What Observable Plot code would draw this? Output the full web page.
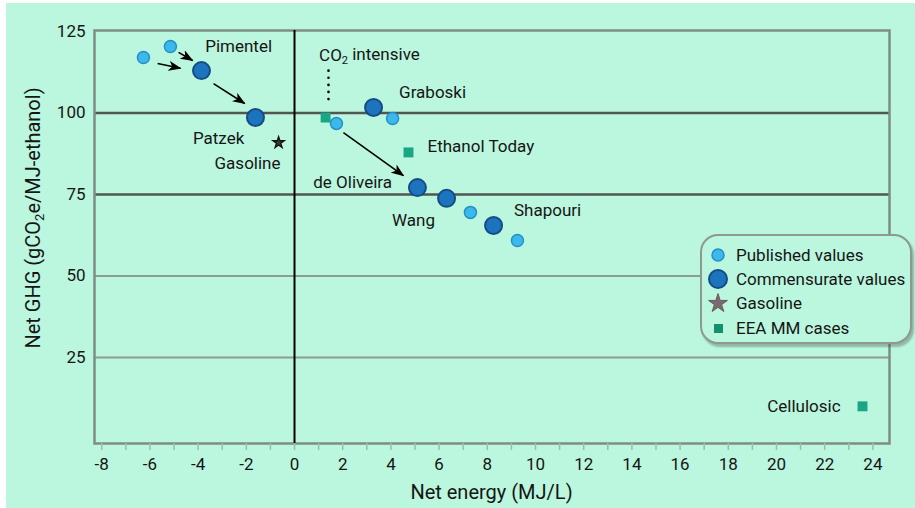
<!DOCTYPE html>
<html><head><meta charset="utf-8">
<script src="https://cdn.jsdelivr.net/npm/d3@7"></script>
<script src="https://cdn.jsdelivr.net/npm/@observablehq/plot@0.6"></script>
<style>
html,body{margin:0;padding:0;background:#fff;}
#wrap{position:absolute;left:6px;top:3px;width:909px;height:505px;background:#bbf6de;font-family:Roboto,"Liberation Sans",sans-serif;color:#151515;overflow:hidden;}
#legend{position:absolute;left:694px;top:231px;width:208px;height:106px;border:2px solid #8e9893;border-radius:18px;background:#bbf6de;box-shadow:2px 3px 2px rgba(60,70,65,0.35);}
.row{position:absolute;left:0;height:24px;width:208px;}
.row svg{position:absolute;left:4px;top:0;}
.row span{position:absolute;left:34px;top:1px;font-size:17px;line-height:22px;white-space:nowrap;}
</style></head>
<body><div id="wrap"></div>
<script>
// ---- data ----
const publishedX = [-6.27, -5.15, 1.74, 4.07, 7.30, 9.25];
const publishedY = [117.0, 120.4, 96.8, 98.3, 69.5, 60.9];
const commensurateX = [-3.86, -1.62, 3.28, 5.10, 6.31, 8.26];
const commensurateY = [113.0, 98.6, 101.7, 77.1, 73.8, 65.5];
const gasolineX = [-0.66];
const gasolineY = [90.9];
const eeaX = [1.29, 4.73, 23.57];
const eeaY = [98.6, 87.9, 10.0];
// arrows (from -> to)
const arrowX1 = [-5.68, -4.81, -3.36, 2.03];
const arrowY1 = [115.2, 118.6, 109.0, 94.0];
const arrowX2 = [-4.73, -4.23, -2.07, 4.52];
const arrowY2 = [113.7, 116.1, 102.9, 80.8];
const dottedX = [1.41];
const dottedY1 = [113.0];
const dottedY2 = [102.3];
// annotation labels
const labelText = ["Pimentel", "Patzek", "Gasoline", "Graboski", "de Oliveira", "Wang", "Shapouri"];
const labelX = [-2.32, -3.15, -1.95, 5.73, 2.41, 4.94, 10.5];
const labelY = [120.4, 92.2, 84.5, 106.3, 78.7, 67.0, 70.1];
const leftLabelText = ["Ethanol Today"];
const leftLabelX = [5.52];
const leftLabelY = [89.7];
const rightLabelText = ["Cellulosic"];
const rightLabelX = [22.66];
const rightLabelY = [10.0];
const co2LabelX = 1.04, co2LabelY = 117.6;
const xTicks = [-8,-6,-4,-2,0,2,4,6,8,10,12,14,16,18,20,22,24];
const xMinorTicks = d3.range(-8, 25, 1);
const yTicks = [25, 50, 75, 100, 125];
const gridDark = [75, 100];
const gridLight = [25, 50];
const legendItems = ["Published values", "Commensurate values", "Gasoline", "EEA MM cases"];

const zip = (xs, ys) => xs.map((x, i) => ({x, y: ys[i]}));
const published = zip(publishedX, publishedY);
const commensurate = zip(commensurateX, commensurateY);
const gasoline = zip(gasolineX, gasolineY);
const eea = zip(eeaX, eeaY);
const arrows = arrowX1.map((x1, i) => ({x1, y1: arrowY1[i], x2: arrowX2[i], y2: arrowY2[i]}));
const dotted = dottedX.map((x, i) => ({x1: x, x2: x, y1: dottedY1[i], y2: dottedY2[i]}));
const labels = labelText.map((t, i) => ({t, x: labelX[i], y: labelY[i]}));
const leftLabels = leftLabelText.map((t, i) => ({t, x: leftLabelX[i], y: leftLabelY[i]}));
const rightLabels = rightLabelText.map((t, i) => ({t, x: rightLabelX[i], y: rightLabelY[i]}));

const C = {pubFill:"#3cb9ea", pubStroke:"#2590c8", comFill:"#1b74bd", comStroke:"#164c84", eea:"#1aa585", frame:"#7f8d87"};

const plot = Plot.plot({
  width: 909, height: 505,
  marginLeft: 88, marginRight: 26, marginTop: 27, marginBottom: 65,
  style: {background: "transparent", fontFamily: "Roboto, 'Liberation Sans', sans-serif", fontSize: "17px", color: "#151515"},
  x: {domain: [-8.3, 24.69]},
  y: {domain: [-1.4, 125.3]},
  marks: [
    Plot.ruleY(gridLight, {stroke: "#8d9c96", strokeWidth: 2}),
    Plot.ruleY(gridDark, {stroke: "#505652", strokeWidth: 2.5}),
    Plot.frame({stroke: C.frame, strokeWidth: 2.5}),
    Plot.ruleX([0], {stroke: "#000", strokeWidth: 2}),
    Plot.axisY({ticks: yTicks, tickSize: 0, tickPadding: 9, label: null, fontSize: 17, tickFormat: d => String(d)}),
    Plot.axisX({ticks: xMinorTicks, tickSize: 7, text: null, label: null, stroke: "#9dbcae", strokeWidth: 1.5}),
    Plot.axisX({ticks: xTicks, tickSize: 0, tickPadding: 14, label: null, fontSize: 17, tickFormat: d => String(d)}),
    Plot.link(dotted, {x1: "x1", y1: "y1", x2: "x2", y2: "y2", stroke: "#000", strokeWidth: 2.6, strokeDasharray: "0.1 7", strokeLinecap: "round"}),
    Plot.link(arrows, {x1: "x1", y1: "y1", x2: "x2", y2: "y2", stroke: "#000", strokeWidth: 1.6, markerEnd: "arrow"}),
    Plot.dot(published, {x: "x", y: "y", r: 6, fill: C.pubFill, stroke: C.pubStroke, strokeWidth: 1.5}),
    Plot.dot(commensurate, {x: "x", y: "y", r: 8.5, fill: C.comFill, stroke: C.comStroke, strokeWidth: 2}),
    Plot.dot(gasoline, {x: "x", y: "y", r: 3.6, symbol: "star", fill: "#3a3a3a", stroke: "#111", strokeWidth: 1.3}),
    Plot.dot(eea, {x: "x", y: "y", r: 5.6, symbol: "square", fill: C.eea}),
    Plot.text(labels, {x: "x", y: "y", text: "t", fontSize: 17, fill: "#151515", textAnchor: "middle"}),
    Plot.text(leftLabels, {x: "x", y: "y", text: "t", fontSize: 17, fill: "#151515", textAnchor: "start"}),
    Plot.text(rightLabels, {x: "x", y: "y", text: "t", fontSize: 17, fill: "#151515", textAnchor: "end"})
  ]
});

const svg = d3.select(plot);
// filled arrowheads
const defs = svg.insert("defs", ":first-child");
defs.append("marker").attr("id", "ahead").attr("viewBox", "0 0 13 10").attr("refX", 12).attr("refY", 5)
  .attr("markerWidth", 13).attr("markerHeight", 10).attr("orient", "auto").attr("markerUnits", "userSpaceOnUse")
  .append("path").attr("d", "M0,0L13,5L0,10L3.5,5Z").attr("fill", "#000");
svg.selectAll("[marker-end]").attr("marker-end", "url(#ahead)");

const sx = plot.scale("x"), sy = plot.scale("y");
// CO2 intensive label
const co2 = svg.append("text").attr("x", sx.apply(co2LabelX)).attr("y", sy.apply(co2LabelY)).attr("dy", "0.32em")
  .attr("text-anchor", "start").attr("font-size", 17).attr("fill", "#151515");
co2.append("tspan").text("CO");
co2.append("tspan").attr("font-size", 11).attr("dy", "0.35em").text("2");
co2.append("tspan").attr("dy", "-0.25em").text(" intensive");
// y title
const yt = svg.append("text").attr("transform", "translate(27,215) rotate(-90)").attr("text-anchor", "middle")
  .attr("dy", "0.35em").attr("font-size", 20).attr("fill", "#151515");
yt.append("tspan").text("Net GHG (gCO");
yt.append("tspan").attr("font-size", 13).attr("dy", "0.3em").text("2");
yt.append("tspan").attr("dy", "-0.2em").text("e/MJ-ethanol)");
// x title
svg.append("text").attr("x", (sx.range[0] + sx.range[1]) / 2).attr("y", 489).attr("dy", "0.35em")
  .attr("text-anchor", "middle").attr("font-size", 20).attr("fill", "#151515").text("Net energy (MJ/L)");

const wrap = document.getElementById("wrap");
wrap.appendChild(plot);
plot.style.position = "absolute"; plot.style.left = "0"; plot.style.top = "0";

// legend
const legend = document.createElement("div");
legend.id = "legend";
const rowTops = [7, 31, 55, 80];
const markerSvgs = [
  `<svg width="24" height="24"><circle cx="12" cy="12" r="6" fill="${C.pubFill}" stroke="${C.pubStroke}" stroke-width="1.5"/></svg>`,
  `<svg width="24" height="24"><circle cx="12" cy="12" r="9" fill="${C.comFill}" stroke="${C.comStroke}" stroke-width="2"/></svg>`,
  `<svg width="24" height="24"><path transform="translate(12,12.5)" d="${d3.symbol(d3.symbolStar, 110)()}" fill="#7a6a70" stroke="#6a5a60" stroke-width="1"/></svg>`,
  `<svg width="24" height="24"><rect x="8" y="8" width="9" height="9" fill="#14906f"/></svg>`
];
legendItems.forEach((t, i) => {
  const r = document.createElement("div");
  r.className = "row"; r.style.top = rowTops[i] + "px";
  r.innerHTML = markerSvgs[i] + `<span>${t}</span>`;
  legend.appendChild(r);
});
wrap.appendChild(legend);
</script>
</body></html>
